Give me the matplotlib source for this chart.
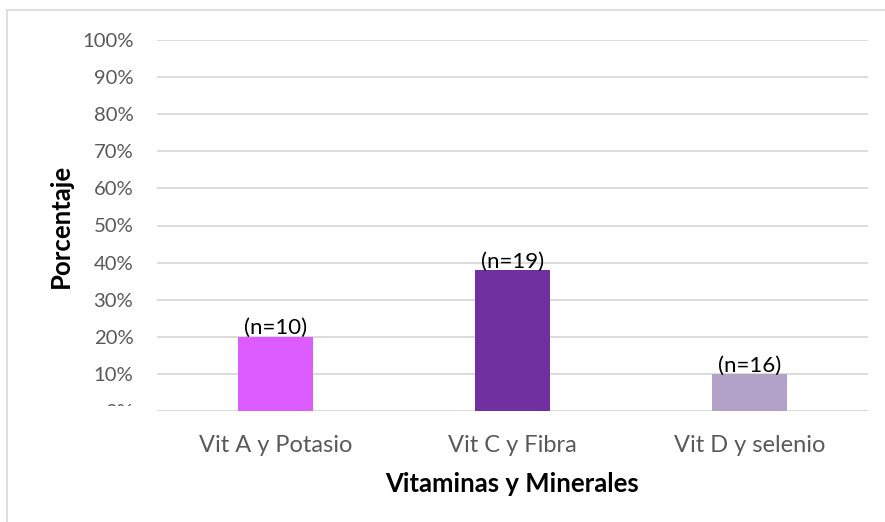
import matplotlib.pyplot as plt
from matplotlib.patches import Rectangle

# datos
categorias = ["Vit A y Potasio", "Vit C y Fibra", "Vit D y selenio"]
porcentajes = [0.20, 0.38, 0.10]
etiquetas_n = ["(n=10)", "(n=19)", "(n=16)"]
colores = ["#dd5cff", "#7030a0", "#b3a2c7"]
yticks = [i / 10 for i in range(11)]
ytick_labels = [f"{i * 10}%" for i in range(11)]

plt.rcParams["font.family"] = ["Lato", "DejaVu Sans"]

fig = plt.figure(figsize=(8.85, 5.22), dpi=100)
ax = fig.add_axes([157 / 885, 1 - 411 / 522, (868 - 157) / 885, (411 - 40) / 522])

x = range(len(categorias))
ax.bar(x, porcentajes, width=0.316, color=colores, zorder=3)

for xi, v, t in zip(x, porcentajes, etiquetas_n):
    ax.text(xi, v - 0.004, t, ha="center", va="bottom", fontsize=16, color="black", zorder=4)

ax.set_xlim(-0.5, 2.5)
ax.set_ylim(0, 1)
ax.set_yticks(yticks)
ax.set_yticklabels(ytick_labels)
ax.set_xticks(list(x))
ax.set_xticklabels(categorias)
ax.tick_params(axis="y", length=0, labelsize=14.6, labelcolor="#595959", pad=17)
ax.tick_params(axis="x", length=0, labelsize=17, labelcolor="#595959", pad=17)
ax.grid(axis="y", color="#d9d9d9", linewidth=1.3, zorder=0)
for s in ax.spines.values():
    s.set_visible(False)

ax.set_ylabel("Porcentaje", fontsize=18.5, fontweight="bold")
ax.yaxis.set_label_coords(-0.119, 0.5)
ax.set_xlabel("Vitaminas y Minerales", fontsize=18.5, fontweight="bold", labelpad=12)

# el 0% aparece tapado en el original
fig.patches.append(Rectangle((100 / 885, 1 - 425 / 522), 55 / 885, 19 / 522,
                             transform=fig.transFigure, facecolor="white",
                             edgecolor="none", zorder=10))
# borde del gráfico
fig.patches.append(Rectangle((7 / 885, -0.1), 1.1, 1 - 10 / 522 + 0.1,
                             transform=fig.transFigure, facecolor="none",
                             edgecolor="#d9d9d9", linewidth=1.2, zorder=10))

fig.savefig("out.png", dpi=100)
